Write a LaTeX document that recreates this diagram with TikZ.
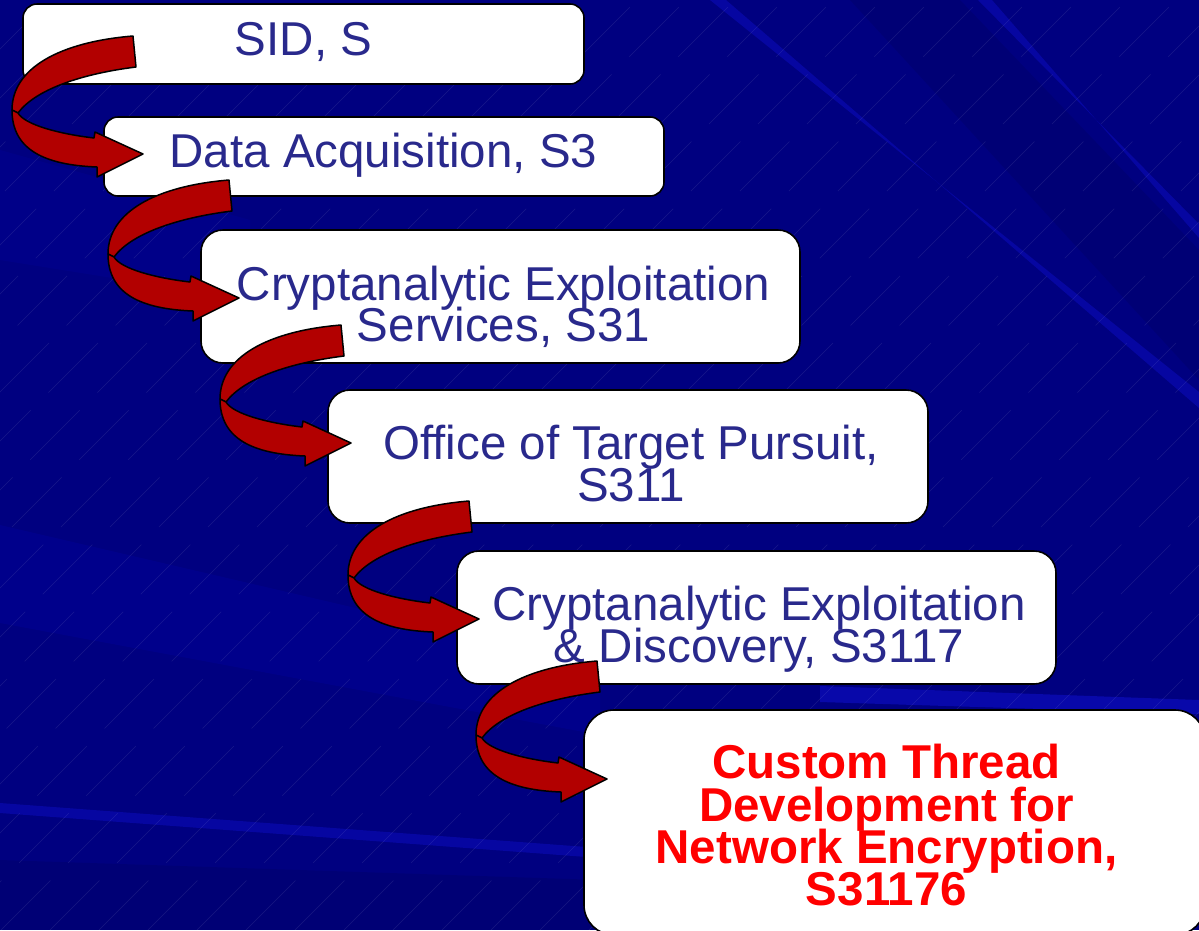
\documentclass[tikz,border=0pt]{standalone}
\usepackage{fontspec}
\setmainfont{Liberation Sans}
\definecolor{navy}{RGB}{0,0,128}
\definecolor{navylight}{RGB}{0,0,150}
\definecolor{navybright}{RGB}{8,8,170}
\definecolor{txtblue}{RGB}{41,41,140}
\definecolor{arrred}{RGB}{178,0,0}
\begin{document}
\begin{tikzpicture}[x=1pt,y=-1pt,
  box/.style={draw=black,line width=1.6pt,fill=white,inner sep=0pt},
  bluetxt/.style={text=txtblue,font=\fontsize{47.5}{41}\selectfont,anchor=base,inner sep=0pt},
  redtxt/.style={text=red,font=\bfseries\fontsize{47.5}{42}\selectfont,anchor=base,inner sep=0pt},
  ribbon/.style={fill=arrred,draw=black,line width=1.5pt,line join=round},
  hatch/.style={white,opacity=0.09,line width=0.6pt,dash pattern=on 70pt off 25pt},
  curl/.pic={
    \filldraw[ribbon] (133,36) .. controls (60,42) and (12,68) .. (12,110)
      -- (18,113) .. controls (35,90) and (80,74) .. (136,67) -- cycle;
    \filldraw[ribbon] (12,110) .. controls (12,150) and (45,165) .. (97,167)
      -- (97,177) -- (143,154) -- (95,132) -- (94,138)
      .. controls (60,134) and (25,125) .. (18,113) -- cycle;
  }]
\useasboundingbox (0,0) rectangle (1199,930);
% background
\begin{scope}
  \clip (0,0) rectangle (1199,930);
  \fill[navy] (0,0) rectangle (1199,930);
  \fill[navylight,opacity=0.5] (0,525) -- (600,665) -- (600,735) -- (0,623) -- cycle;
  \fill[navylight,opacity=0.4] (0,150) -- (250,220) -- (250,300) -- (0,260) -- cycle;
  \fill[black,opacity=0.08] (850,0) -- (960,0) -- (1199,250) -- (1199,380) -- cycle;
  \fill[black,opacity=0.08] (0,860) -- (600,880) -- (600,930) -- (0,930) -- cycle;
  \fill[navybright,opacity=0.8] (710,0) -- (726,0) -- (1199,408) -- (1199,392) -- cycle;
  \fill[navybright,opacity=0.8] (978,0) -- (992,0) -- (1199,238) -- (1199,224) -- cycle;
  \fill[navybright] (820,686) -- (1199,700) -- (1199,714) -- (820,702) -- cycle;
  \fill[navybright,opacity=0.8] (0,803) -- (600,848) -- (600,858) -- (0,813) -- cycle;
  \foreach \k in {-930,-881,...,1199}
    \draw[hatch] (\k,930) -- ++(930,-930);
\end{scope}
% boxes
\node[box,rounded corners=14pt,minimum width=561pt,minimum height=80pt] (b1) at (303.5,44) {};
\node[box,rounded corners=14pt,minimum width=560pt,minimum height=79pt] (b2) at (384,156.5) {};
\node[box,rounded corners=22pt,minimum width=599pt,minimum height=133pt] (b3) at (500.5,296.5) {};
\node[box,rounded corners=22pt,minimum width=600pt,minimum height=133pt] (b4) at (628,456.5) {};
\node[box,rounded corners=22pt,minimum width=599pt,minimum height=133pt] (b5) at (756.5,617.5) {};
\node[box,rounded corners=30pt,minimum width=621pt,minimum height=225pt] (b6) at (894.5,822.5) {};
% texts
\node[bluetxt] (t1) at (303.5,55) {SID, S};
\node[bluetxt] (t2) at (383.5,167) {Data Acquisition, S3};
\node[bluetxt] (t3a) at (503.5,300) {Cryptanalytic Exploitation};
\node[bluetxt] (t3b) at (503.5,341) {Services, S31};
\node[bluetxt] (t4a) at (631,459) {Office of Target Pursuit,};
\node[bluetxt] (t4b) at (631,501) {S311};
\node[bluetxt] (t5a) at (759,620) {Cryptanalytic Exploitation};
\node[bluetxt] (t5b) at (759,662) {\& Discovery, S3117};
\node[redtxt] (t6a) at (886.5,778) {Custom Thread};
\node[redtxt] (t6b) at (886.5,821) {Development for};
\node[redtxt] (t6c) at (886.5,863) {Network Encryption,};
\node[redtxt] (t6d) at (886.5,905) {S31176};
% arrows
\pic at (0,0) {curl};
\pic at (96,144) {curl};
\pic at (208,289) {curl};
\pic at (336,465) {curl};
\pic at (464,625) {curl};
\end{tikzpicture}
\end{document}
